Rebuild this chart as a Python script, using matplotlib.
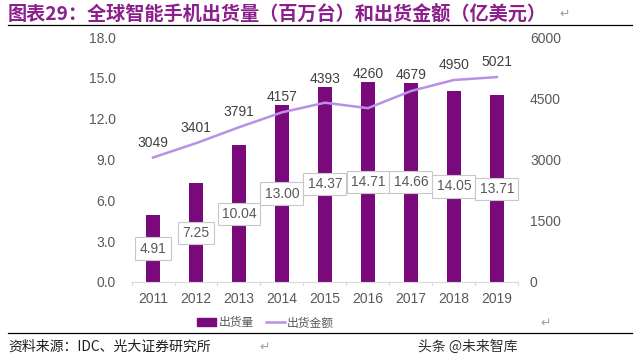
import matplotlib
matplotlib.use("Agg")
import matplotlib.pyplot as plt
from matplotlib.patches import Patch
from matplotlib.lines import Line2D

plt.rcParams['font.family'] = ['Liberation Sans', 'Noto Sans CJK SC', 'DejaVu Sans']

years = ['2011', '2012', '2013', '2014', '2015', '2016', '2017', '2018', '2019']
shipments = [4.91, 7.25, 10.04, 13.00, 14.37, 14.71, 14.66, 14.05, 13.71]
values = [3049, 3401, 3791, 4157, 4393, 4260, 4679, 4950, 5021]
left_ticks = [0, 3, 6, 9, 12, 15, 18]
right_ticks = [0, 1500, 3000, 4500, 6000]

bar_color = '#7a0a7c'
line_color = '#b990e6'
tick_color = '#595959'

fig = plt.figure(figsize=(6.4, 3.64), dpi=100)
ax = fig.add_axes([0.2055, 0.2253, 0.6045, 0.6727])
x = list(range(len(years)))
ax.bar(x, shipments, width=0.33, color=bar_color, zorder=2)
ax.set_xlim(-0.5, len(years) - 0.5)
ax.set_ylim(0, 18)
ax.set_yticks(left_ticks)
ax.set_yticklabels([f'{t:.1f}' for t in left_ticks])
ax.set_xticks(x)
ax.set_xticklabels(years)
for s in ['top', 'right', 'left']:
    ax.spines[s].set_visible(False)
ax.spines['bottom'].set_color('#d9d9d9')
ax.tick_params(axis='y', length=0, pad=11.5, labelsize=10, labelcolor=tick_color)
ax.tick_params(axis='x', length=0, pad=7, labelsize=10, labelcolor=tick_color)
for xi in [i - 0.5 for i in range(len(years) + 1)]:
    ax.plot([xi, xi], [0, -0.2], color='#d9d9d9', lw=0.8, clip_on=False)

for xi, v in zip(x, shipments):
    ax.text(xi, v / 2, f'{v:.2f}', ha='center', va='center', fontsize=10,
            color=tick_color, zorder=4,
            bbox=dict(boxstyle='square,pad=0.3', fc='white', ec='#c8c8c8', lw=0.8))

ax2 = ax.twinx()
ax2.plot(x, values, color=line_color, lw=1.8, zorder=3)
ax2.set_ylim(0, 6000)
ax2.set_yticks(right_ticks)
ax2.set_yticklabels([str(t) for t in right_ticks])
for s in ['top', 'right', 'left', 'bottom']:
    ax2.spines[s].set_visible(False)
ax2.tick_params(axis='y', length=0, pad=8.3, labelsize=10, labelcolor=tick_color)
# labels sit above the line, and above the bar top when the bar is taller
px = 6000 / 245.0
for xi, v, s in zip(x, values, shipments):
    bar_top = s / 18 * 6000
    y_lab = max(v + 15 * px, bar_top + 8 * px)
    ax2.text(xi, y_lab, str(v), ha='center', va='center', fontsize=10, color='#404040')

# title
fig.text(0.0125, 0.962, '图表29：全球智能手机出货量（百万台）和出货金额（亿美元）',
         fontsize=13.8, fontweight='bold', color='#8b1f8b', va='center', ha='left',
         family=['Noto Sans CJK SC', 'DejaVu Sans'])
fig.text(0.874, 0.962, '\u21b5', fontsize=9, color='#a0a0a0', va='center', ha='left',
         family=['DejaVu Sans'])
fig.add_artist(Line2D([0.0125, 0.9875], [0.932, 0.932], color='black', lw=0.9))

# legend
handles = [Patch(facecolor=bar_color, edgecolor=bar_color),
           Line2D([0], [0], color=line_color, lw=1.8)]
leg = fig.legend(handles, ['出货量', '出货金额'], loc='center', bbox_to_anchor=(0.415, 0.113),
                 ncol=2, frameon=False, handlelength=1.6, handletextpad=0.2,
                 columnspacing=1.0, prop={'family': ['Noto Sans CJK SC'], 'size': 8.5})
for t in leg.get_texts():
    t.set_color(tick_color)
fig.text(0.845, 0.113, '\u21b5', fontsize=9, color='#a0a0a0', va='center', ha='left',
         family=['DejaVu Sans'])

fig.add_artist(Line2D([0.0125, 0.9875], [0.085, 0.085], color='black', lw=0.9))
fig.text(0.0125, 0.047, '资料来源：IDC、光大证券研究所', fontsize=10, color='#202020',
         va='center', ha='left', family=['Noto Sans CJK SC', 'DejaVu Sans'])
fig.text(0.405, 0.047, '\u21b5', fontsize=9, color='#a0a0a0', va='center', ha='left',
         family=['DejaVu Sans'])
fig.text(0.653, 0.047, '头条 @未来智库', fontsize=10, color='#303030',
         va='center', ha='left', family=['Noto Sans CJK SC', 'DejaVu Sans'])

fig.savefig('out.png', dpi=100, facecolor='white')
